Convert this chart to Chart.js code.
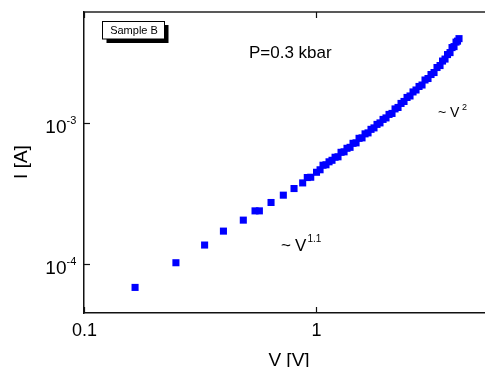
<!DOCTYPE html>
<html>
<head>
<meta charset="utf-8">
<script src="https://cdn.jsdelivr.net/npm/chart.js@4/dist/chart.umd.min.js"></script>
<style>
  html, body { margin: 0; padding: 0; background: #ffffff; }
  canvas { display: block; }
</style>
</head>
<body>
<canvas id="c" width="485" height="367"></canvas>
<script>
// ---- data ----
const voltage = [0.166, 0.249, 0.331, 0.399, 0.486, 0.546, 0.570, 0.640, 0.723, 0.804, 0.876, 0.917, 0.949, 1.005,
  1.041, 1.072, 1.104, 1.138, 1.172, 1.208, 1.244, 1.282, 1.321, 1.360,
  1.402, 1.444, 1.488, 1.533, 1.579, 1.627, 1.676, 1.726, 1.778, 1.832,
  1.887, 1.945, 2.003, 2.064, 2.126, 2.191, 2.257, 2.325, 2.395, 2.468,
  2.542, 2.619, 2.698, 2.780, 2.864, 2.950, 3.039, 3.131, 3.226, 3.323,
  3.424, 3.510, 3.598, 3.688, 3.781, 3.857, 3.934, 4.013, 4.073, 4.134];
const current = [6.86e-5, 1.026e-4, 1.369e-4, 1.718e-4, 2.055e-4, 2.39e-4, 2.39e-4, 2.74e-4, 3.087e-4, 3.44e-4, 3.77e-4, 4.115e-4, 4.135e-4, 4.485e-4,
  4.672e-4, 5.03e-4, 5.068e-4, 5.32e-4, 5.453e-4, 5.73e-4, 5.772e-4, 6.21e-4, 6.260e-4, 6.63e-4,
  6.735e-4, 7.19e-4, 7.247e-4, 7.80e-4, 7.861e-4, 8.39e-4, 8.527e-4, 9.03e-4, 9.248e-4, 9.79e-4,
  1.0033e-3, 1.062e-3, 1.0882e-3, 1.152e-3, 1.1707e-3, 1.260e-3, 1.2907e-3, 1.378e-3, 1.4231e-3, 1.519e-3,
  1.5564e-3, 1.662e-3, 1.7158e-3, 1.817e-3, 1.8612e-3, 2.019e-3, 2.0688e-3, 2.208e-3, 2.2806e-3, 2.475e-3,
  2.5556e-3, 2.750e-3, 2.8407e-3, 3.057e-3, 3.1573e-3, 3.426e-3, 3.4807e-3, 3.746e-3, 3.8062e-3, 3.9641e-3];

const xTickValues = [0.1, 1];
const xTickLabels = ['0.1', '1'];
const yTickValues = [1e-4, 1e-3];
const yTickBase = ['10', '10'];
const yTickExponents = ['-4', '-3'];

const xRange = [0.1, 5.35];
const yRange = [4.52e-5, 6.12e-3];

const sampleLabel = 'Sample B';
const pressureLabel = 'P=0.3 kbar';
const xTitle = 'V [V]';
const yTitle = 'I [A]';

const FONT = '"Liberation Sans", Arial, Helvetica, sans-serif';

const points = voltage.map((v, i) => ({ x: v, y: current[i] }));

const decorations = {
  id: 'decorations',
  afterDraw(chart) {
    const ctx = chart.ctx;
    const xs = chart.scales.x, ys = chart.scales.y;
    const a = chart.chartArea;
    ctx.save();
    // top frame line
    ctx.strokeStyle = '#222';
    ctx.lineWidth = 1.5;
    ctx.beginPath();
    ctx.moveTo(a.left, a.top);
    ctx.lineTo(a.right, a.top);
    ctx.stroke();
    // inward ticks
    ctx.lineWidth = 1.2;
    ctx.strokeStyle = '#111';
    xTickValues.forEach(v => {
      const px = Math.round(xs.getPixelForValue(v)) + 0.5;
      ctx.beginPath();
      ctx.moveTo(px, a.bottom); ctx.lineTo(px, a.bottom - 6);
      ctx.moveTo(px, a.top); ctx.lineTo(px, a.top + 6);
      ctx.stroke();
    });
    yTickValues.forEach(v => {
      const py = Math.round(ys.getPixelForValue(v)) + 0.5;
      ctx.beginPath();
      ctx.moveTo(a.left, py); ctx.lineTo(a.left + 6, py);
      ctx.stroke();
    });
    ctx.fillStyle = '#000';
    // x tick labels
    ctx.font = '18px ' + FONT;
    ctx.textAlign = 'center';
    ctx.textBaseline = 'alphabetic';
    xTickValues.forEach((v, i) => {
      ctx.fillText(xTickLabels[i], xs.getPixelForValue(v) + 0.5, a.bottom + 23);
    });
    // y tick labels with superscripts
    yTickValues.forEach((v, i) => {
      const py = ys.getPixelForValue(v);
      ctx.font = '19px ' + FONT;
      ctx.textAlign = 'right';
      ctx.fillText(yTickBase[i], 66.5, py + 9.5);
      ctx.font = '11px ' + FONT;
      ctx.textAlign = 'left';
      ctx.fillText(yTickExponents[i], 66.5, py + 1);
    });
    // axis titles
    ctx.font = '19px ' + FONT;
    ctx.textAlign = 'center';
    ctx.fillText(xTitle, 289, 366);
    ctx.save();
    ctx.translate(27, 162);
    ctx.rotate(-Math.PI / 2);
    ctx.fillText(yTitle, 0, 0);
    ctx.restore();
    // Sample label box with shadow
    ctx.fillStyle = '#000';
    ctx.fillRect(106.5, 25, 62, 18);
    ctx.fillStyle = '#fff';
    ctx.fillRect(102.5, 21, 62, 18);
    ctx.strokeStyle = '#000';
    ctx.lineWidth = 1;
    ctx.strokeRect(102.5, 21.5, 62, 17.5);
    ctx.fillStyle = '#000';
    ctx.font = '11px ' + FONT;
    ctx.textAlign = 'center';
    ctx.fillText(sampleLabel, 134, 34);
    // pressure annotation
    ctx.font = '17px ' + FONT;
    ctx.textAlign = 'left';
    ctx.fillText(pressureLabel, 249, 58);
    // ~ V^2
    ctx.font = '14px ' + FONT;
    ctx.fillText('~', 438, 116.5);
    ctx.fillText('V', 450, 116.5);
    ctx.font = '9px ' + FONT;
    ctx.fillText('2', 462, 109.5);
    // ~ V^1.1
    ctx.font = '17px ' + FONT;
    ctx.fillText('~', 281, 250.5);
    ctx.fillText('V', 295, 250.5);
    ctx.font = '10px ' + FONT;
    ctx.fillText('1.1', 307.5, 242);
    ctx.restore();
  }
};

new Chart(document.getElementById('c'), {
  type: 'scatter',
  data: {
    datasets: [{
      data: points,
      pointStyle: 'rect',
      pointRadius: 5,
      pointHoverRadius: 5,
      borderWidth: 0,
      backgroundColor: '#0000ff',
      showLine: false
    }]
  },
  options: {
    responsive: false,
    animation: false,
    devicePixelRatio: 1,
    layout: { autoPadding: false, padding: { top: 12, right: 0, left: 0, bottom: 0 } },
    plugins: { legend: { display: false }, tooltip: { enabled: false } },
    scales: {
      x: {
        type: 'logarithmic',
        min: xRange[0], max: xRange[1],
        afterBuildTicks: s => { s.ticks = xTickValues.map(v => ({ value: v })); },
        afterFit: s => { s.height = 54; },
        ticks: { display: false },
        grid: { display: false },
        border: { display: true, color: '#111', width: 1.5 }
      },
      y: {
        type: 'logarithmic',
        min: yRange[0], max: yRange[1],
        afterBuildTicks: s => { s.ticks = yTickValues.map(v => ({ value: v })); },
        afterFit: s => { s.width = 84; },
        ticks: { display: false },
        grid: { display: false },
        border: { display: true, color: '#111', width: 1.5 }
      }
    }
  },
  plugins: [decorations]
});
</script>
</body>
</html>
